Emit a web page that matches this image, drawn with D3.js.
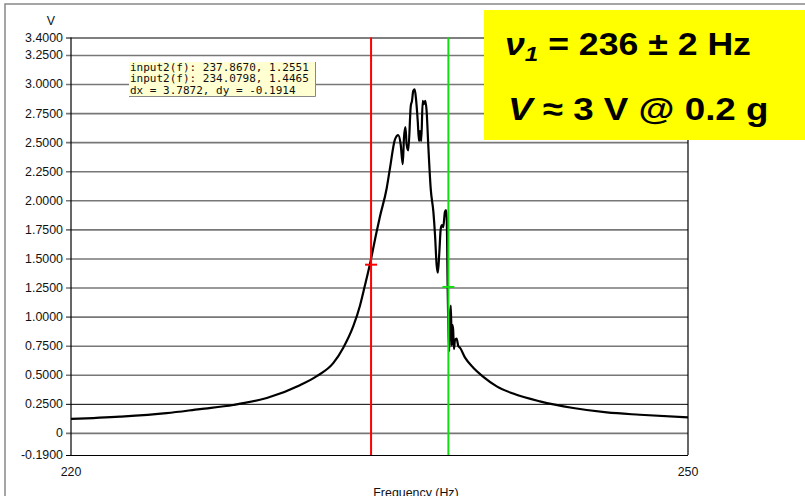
<!DOCTYPE html>
<html>
<head>
<meta charset="utf-8">
<script src="https://cdn.jsdelivr.net/npm/d3@7"></script>
<style>
  body { margin: 0; background: #fff; }
  svg { display: block; font-family: "Liberation Sans", Arial, sans-serif; }
</style>
</head>
<body>
<div id="chart"></div>
<script>
// Frequency sweep (Hz, V)
var freq = [220.00, 222.38, 224.65, 226.27, 227.89, 229.52, 231.13, 231.95, 232.75, 233.24,
  233.73, 234.05, 234.29, 234.54, 234.86, 235.02, 235.35, 235.51, 235.75, 235.91,
  236.03, 236.13, 236.19, 236.26, 236.32, 236.40, 236.52, 236.58, 236.64, 236.71,
  236.77, 236.86, 236.92, 236.97, 237.03, 237.10, 237.16, 237.23, 237.29, 237.37,
  237.49, 237.62, 237.70, 237.78, 237.84, 237.91, 237.98, 238.04, 238.10, 238.18,
  238.23, 238.27, 238.31, 238.39, 238.43, 238.47, 238.51, 238.54, 238.58, 238.62,
  238.67, 238.75, 238.83, 238.91, 239.16, 239.56, 240.05, 240.70, 241.50, 242.80,
  244.42, 246.05, 247.66, 250.00];
var volts = [0.120, 0.140, 0.170, 0.205, 0.240, 0.300, 0.410, 0.488, 0.600, 0.733,
  0.920, 1.094, 1.267, 1.455, 1.729, 1.859, 2.104, 2.277, 2.522, 2.560,
  2.480, 2.310, 2.537, 2.630, 2.480, 2.430, 2.810, 2.855, 2.940, 2.955,
  2.880, 2.680, 2.510, 2.595, 2.510, 2.855, 2.826, 2.855, 2.770, 2.480,
  2.100, 1.900, 1.700, 1.440, 1.377, 1.556, 1.758, 1.786, 1.770, 1.900,
  1.916, 1.844, 1.300, 0.704, 1.000, 1.094, 0.750, 0.930, 0.890, 0.720,
  0.800, 0.810, 0.747, 0.733, 0.647, 0.560, 0.482, 0.400, 0.338, 0.271,
  0.214, 0.176, 0.156, 0.133];

var yTicks = [3.4, 3.25, 3.0, 2.75, 2.5, 2.25, 2.0, 1.75, 1.5, 1.25, 1.0, 0.75, 0.5, 0.25, 0, -0.19];
var xTicks = [220, 250];

// cursors: [frequency, value, colour]
var cursors = [
  [234.59, 1.4465, '#ff0000'],
  [238.35, 1.2551, '#11dd11']
];
var readout = [
  'input2(f): 237.8670, 1.2551',
  'input2(f): 234.0798, 1.4465',
  'dx = 3.7872, dy = -0.1914'
];

(function() {
  var W = 805, H = 496;
  var pLeft = 71, pRight = 688, pTop = 37.5, pBottom = 455;

  var svg = d3.select('#chart').append('svg')
    .attr('width', W)
    .attr('height', H);

  // outer frame
  svg.append('path')
    .attr('d', 'M5,' + H + 'V4H' + W)
    .attr('fill', 'none')
    .attr('stroke', '#888')
    .attr('stroke-width', 1.5);

  var x = d3.scaleLinear().domain([220, 250]).range([pLeft, pRight]);
  var y = d3.scaleLinear().domain([-0.19, 3.4]).range([pBottom, pTop]);

  // gridlines + y labels
  var dark = d => (d === 3.4 || d === 0.25 || d === -0.19);
  var yAxis = svg.append('g')
    .attr('transform', 'translate(' + pLeft + ',0)')
    .call(d3.axisLeft(y)
      .tickValues(yTicks)
      .tickSize(-(pRight - pLeft))
      .tickPadding(8)
      .tickFormat(d => d === 0 ? '0' : d.toFixed(4)));
  yAxis.select('.domain').remove();
  yAxis.selectAll('.tick line')
    .attr('x1', -5)
    .attr('stroke', d => dark(d) ? '#000' : '#777')
    .attr('stroke-width', d => dark(d) ? 1 : 1.6);
  yAxis.selectAll('.tick text')
    .attr('font-size', '12.4px')
    .attr('font-family', '"Liberation Sans", Arial, sans-serif')
    .attr('fill', '#111');

  // plot frame sides
  [pLeft, pRight].forEach(function(px) {
    svg.append('line')
      .attr('x1', px).attr('x2', px).attr('y1', pTop).attr('y2', pBottom)
      .attr('stroke', '#000').attr('stroke-width', 1.2);
  });

  // x labels
  svg.selectAll('.xlab')
    .data(xTicks)
    .join('text')
      .attr('class', 'xlab')
      .attr('x', d => x(d))
      .attr('y', 476)
      .attr('text-anchor', 'middle')
      .attr('font-size', '12.4px')
      .attr('fill', '#111')
      .text(d => d);

  svg.append('text')
    .attr('x', 416)
    .attr('y', 497)
    .attr('text-anchor', 'middle')
    .attr('font-size', '12.4px')
    .attr('fill', '#111')
    .text('Frequency (Hz)');

  svg.append('text')
    .attr('x', 51)
    .attr('y', 25)
    .attr('text-anchor', 'middle')
    .attr('font-size', '12.4px')
    .attr('fill', '#111')
    .text('V');

  // the curve
  var pts = freq.map((f, i) => [f, volts[i]]);
  svg.append('path')
    .datum(pts)
    .attr('fill', 'none')
    .attr('stroke', '#000')
    .attr('stroke-width', 2.2)
    .attr('stroke-linejoin', 'round')
    .attr('d', d3.line()
      .x(d => x(d[0]))
      .y(d => y(d[1]))
      .curve(d3.curveMonotoneX));

  // cursors
  cursors.forEach(function(c) {
    svg.append('line')
      .attr('x1', x(c[0])).attr('x2', x(c[0]))
      .attr('y1', pTop).attr('y2', pBottom)
      .attr('stroke', c[2]).attr('stroke-width', 2);
    svg.append('line')
      .attr('x1', x(c[0]) - 6).attr('x2', x(c[0]) + 6)
      .attr('y1', y(c[1])).attr('y2', y(c[1]))
      .attr('stroke', c[2]).attr('stroke-width', 2);
  });

  // readout box
  var rb = svg.append('g');
  rb.append('rect')
    .attr('x', 129).attr('y', 62)
    .attr('width', 186).attr('height', 35)
    .attr('fill', '#ffffd2');
  rb.append('path')
    .attr('d', 'M129,96.5H315.5V62')
    .attr('fill', 'none')
    .attr('stroke', '#888')
    .attr('stroke-width', 1);
  rb.selectAll('text')
    .data(readout)
    .join('text')
      .attr('x', 130)
      .attr('y', (d, i) => 71 + i * 11.3)
      .attr('font-family', '"DejaVu Sans Mono", monospace')
      .attr('font-size', '11px')
      .attr('fill', '#111')
      .text(d => d);

  // yellow note
  svg.append('rect')
    .attr('x', 484).attr('y', 10)
    .attr('width', W - 484).attr('height', 130)
    .attr('fill', '#ffff00');

  var t1 = svg.append('text')
    .attr('transform', 'translate(505,55) scale(1.15,1)')
    .attr('font-size', '31px')
    .attr('font-weight', 'bold')
    .attr('fill', '#000');
  t1.append('tspan').attr('font-style', 'italic').text('ν');
  t1.append('tspan').attr('font-style', 'italic').attr('font-size', '21px').attr('dy', 6).text('1');
  t1.append('tspan').attr('dy', -6).text(' = 236 ± 2 Hz');

  var t2 = svg.append('text')
    .attr('transform', 'translate(508,120) scale(1.15,1)')
    .attr('font-size', '32px')
    .attr('font-weight', 'bold')
    .attr('fill', '#000');
  t2.append('tspan').attr('font-style', 'italic').text('V');
  t2.append('tspan').text(' ≈ 3 V @ 0.2 g');
})();
</script>
</body>
</html>
